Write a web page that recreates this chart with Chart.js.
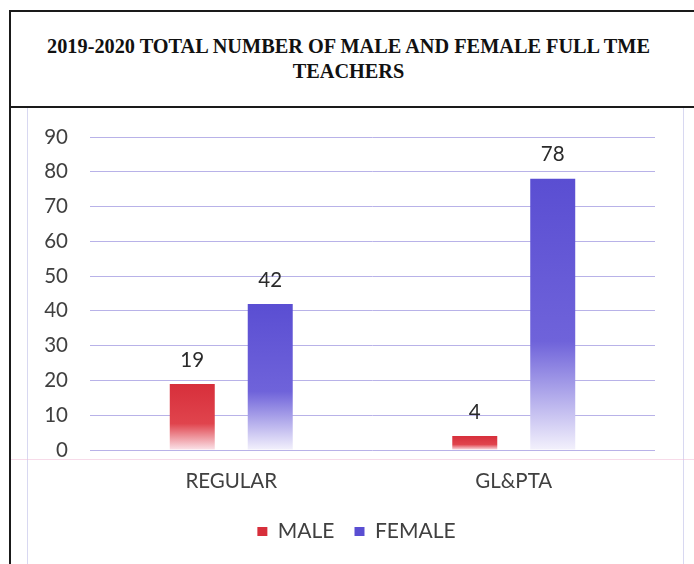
<!DOCTYPE html>
<html>
<head>
<meta charset="utf-8">
<script src="https://cdn.jsdelivr.net/npm/chart.js@4"></script>
<style>
  html, body { margin: 0; padding: 0; background: #fff; }
  body { width: 694px; height: 564px; position: relative; overflow: hidden; }
  #frame { position: absolute; left: 9px; top: 10px; width: 700px; height: 560px; border-left: 2px solid #1a1a1a; }
  #title {
    position: absolute; left: 9px; top: 10px; width: 700px; height: 94px;
    border-top: 2px solid #1a1a1a; border-bottom: 2px solid #1a1a1a;
    font-family: "Liberation Serif", "Times New Roman", serif; font-weight: bold;
    font-size: 20.3px; line-height: 25px; color: #111; text-align: center;
    display: flex; align-items: center; justify-content: flex-start;
  }
  #title span { display: block; width: 679px; }
  .faint { position: absolute; background: rgba(190, 190, 232, 0.6); }
  #chart { position: absolute; left: 0; top: 0; }
</style>
</head>
<body>
<div id="frame"></div>
<div id="title"><span>2019-2020 TOTAL NUMBER OF MALE AND FEMALE FULL TME<br>TEACHERS</span></div>
<div class="faint" style="left:27px;top:108px;width:1px;height:456px;"></div>
<div class="faint" style="left:683px;top:108px;width:1px;height:456px;"></div>
<div class="faint" style="left:11px;top:459px;width:683px;height:1px;background:rgba(240,190,215,0.55);"></div>
<canvas id="chart" width="694" height="564"></canvas>
<script>
const categories = ["REGULAR", "GL&PTA"];
const maleValues = [19, 4];
const femaleValues = [42, 78];
const yTicks = [0, 10, 20, 30, 40, 50, 60, 70, 80, 90];

const textColor = "#404040";
const gridColor = "rgba(172, 164, 228, 0.85)";
const maleColor = "#d72f3b";
const femaleColor = "#5a4ed2";
const font = "Lato, 'Open Sans', sans-serif";

// vertical fade per bar: solid at the top, almost white at the base
function barFill(ctx, top, mid, bottom) {
  const chart = ctx.chart;
  if (!chart.chartArea || ctx.raw === undefined) return top;
  const y = chart.scales.y;
  const y0 = y.getPixelForValue(0);
  const y1 = y.getPixelForValue(ctx.raw);
  if (!isFinite(y0) || !isFinite(y1) || y0 === y1) return top;
  const g = chart.ctx.createLinearGradient(0, y1, 0, y0);
  g.addColorStop(0, top);
  g.addColorStop(0.6, mid);
  g.addColorStop(1, bottom);
  return g;
}

const valueLabels = {
  id: "valueLabels",
  afterDatasetsDraw(chart) {
    const c = chart.ctx;
    c.save();
    c.font = "20.5px " + font;
    c.fillStyle = "#2a2a2a";
    c.textAlign = "center";
    c.textBaseline = "middle";
    chart.data.datasets.forEach((ds, i) => {
      chart.getDatasetMeta(i).data.forEach((bar, j) => {
        c.fillText(String(ds.data[j]), bar.x, bar.y - 24);
      });
    });
    c.restore();
  }
};

// legend sits a bit right of the canvas centre in the original
const legendShift = {
  id: "legendShift",
  afterLayout(chart) {
    const lg = chart.legend;
    if (!lg) return;
    lg.left += 29;
    lg.right += 29;
  }
};

new Chart(document.getElementById("chart"), {
  type: "bar",
  data: {
    labels: categories,
    datasets: [
      {
        label: "MALE",
        data: maleValues,
        backgroundColor: (ctx) => barFill(ctx, maleColor, "#e0444d", "#fbe4ea"),
        categoryPercentage: 0.552,
        barPercentage: 0.577,
      },
      {
        label: "FEMALE",
        data: femaleValues,
        backgroundColor: (ctx) => barFill(ctx, femaleColor, "#6f63da", "#f3f1fc"),
        categoryPercentage: 0.552,
        barPercentage: 0.577,
      },
    ],
  },
  options: {
    responsive: false,
    animation: false,
    layout: { padding: { top: 137, left: 0, right: 39, bottom: 12 } },
    plugins: {
      title: { display: false },
      tooltip: { enabled: false },
      legend: {
        position: "bottom",
        labels: {
          boxWidth: 10,
          boxHeight: 9,
          padding: 20,
          color: textColor,
          font: { family: font, size: 21 },
          generateLabels: (chart) => chart.data.datasets.map((ds, i) => ({
            text: ds.label,
            fillStyle: i === 0 ? maleColor : femaleColor,
            strokeStyle: "transparent",
            lineWidth: 0,
            fontColor: textColor,
            datasetIndex: i,
          })),
        },
      },
    },
    scales: {
      x: {
        grid: { display: false },
        border: { display: false },
        ticks: {
          color: textColor,
          padding: 11,
          font: { family: font, size: 20.5 },
        },
        afterFit: (scale) => { scale.height = 51; },
      },
      y: {
        min: 0,
        max: 90,
        afterBuildTicks: (scale) => { scale.ticks = yTicks.map((v) => ({ value: v })); },
        grid: { color: gridColor, lineWidth: 1, drawTicks: false },
        border: { display: false },
        ticks: {
          color: textColor,
          padding: 22,
          font: { family: font, size: 20.5 },
        },
        afterFit: (scale) => { scale.width = 90; },
      },
    },
  },
  plugins: [valueLabels, legendShift],
});
</script>
</body>
</html>
